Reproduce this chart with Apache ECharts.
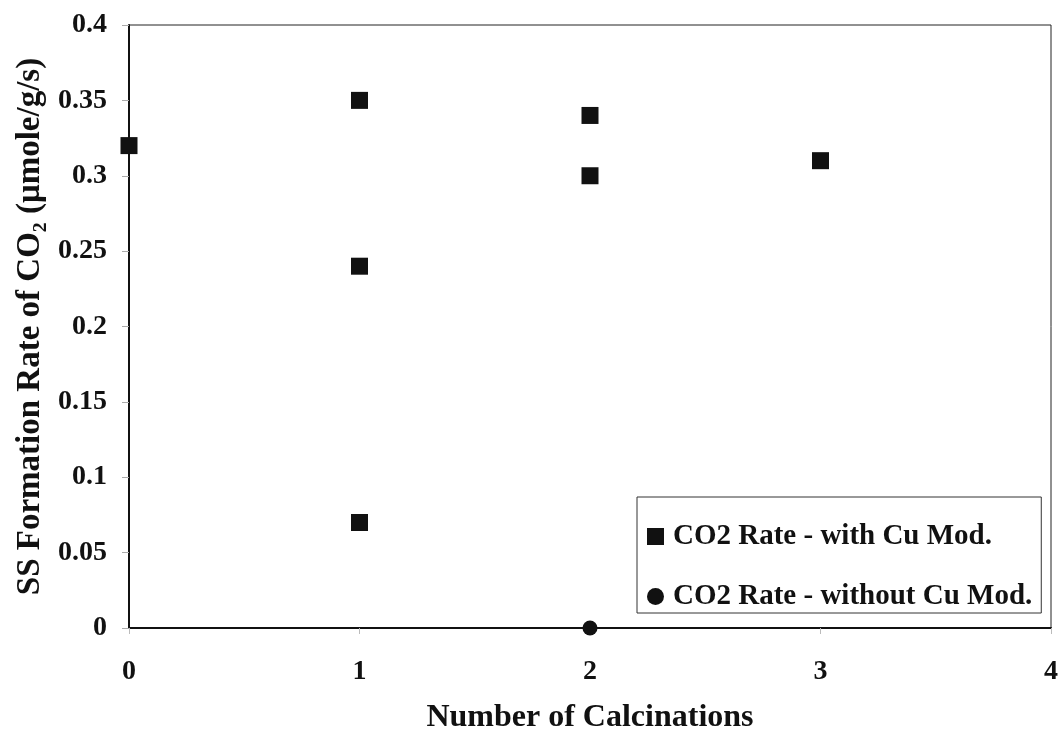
<!DOCTYPE html>
<html>
<head>
<meta charset="utf-8">
<script src="https://cdn.jsdelivr.net/npm/echarts@6/dist/echarts.min.js"></script>
<style>
html,body{margin:0;padding:0;background:#fff;}
#chart{width:1062px;height:733px;}
</style>
</head>
<body>
<div id="chart"></div>
<script>
var withCuX=[0,1,1,1,2,2,3];
var withCuY=[0.32,0.35,0.24,0.07,0.34,0.30,0.31];
var withoutCuX=[2];
var withoutCuY=[0];
var seriesNames=['CO2 Rate - with Cu Mod.','CO2 Rate - without Cu Mod.'];

function pairs(xs,ys){
	var out=[];
	for(var i=0;i<xs.length;i++){
		out.push([xs[i],ys[i]]);
	}
	return out;
}

var FONT='"Liberation Serif","Times New Roman",serif';
var chart=echarts.init(document.getElementById('chart'));
var option={
	animation:false,
	backgroundColor:'#ffffff',
	grid:{left:129,right:11,top:25,bottom:105,containLabel:false,outerBoundsMode:'none',
		show:true,borderColor:'#222',borderWidth:1,backgroundColor:'transparent'},
	legend:{
		orient:'vertical',
		left:637,
		top:497,
		data:[{name:seriesNames[0],icon:'rect'},{name:seriesNames[1],icon:'circle'}],
		itemWidth:17,
		itemHeight:17,
		itemGap:31,
		padding:[25,9,2,10],
		borderColor:'#333',
		borderWidth:1,
		backgroundColor:'#fff',
		textStyle:{fontFamily:FONT,fontWeight:'bold',fontSize:29,color:'#111',padding:[0,0,0,4]}
	},
	xAxis:{
		type:'value',
		min:0,max:4,interval:1,
		name:'Number of Calcinations',
		nameLocation:'middle',
		nameGap:74,
		nameTextStyle:{fontFamily:FONT,fontWeight:'bold',fontSize:32,color:'#111'},
		axisLine:{show:true,lineStyle:{color:'#111',width:2}},
		axisTick:{show:true,inside:false,length:6,lineStyle:{color:'#bbb'}},
		axisLabel:{fontFamily:FONT,fontWeight:'bold',fontSize:28,color:'#111',margin:30},
		splitLine:{show:false}
	},
	yAxis:{
		type:'value',
		min:0,max:0.4,interval:0.05,
		name:'SS Formation Rate of CO\u2082 (\u03bcmole/g/s)',
		nameLocation:'middle',
		nameRotate:90,
		nameGap:82,
		nameTextStyle:{fontFamily:FONT,fontWeight:'bold',fontSize:33,color:'#111'},
		axisLine:{show:true,lineStyle:{color:'#111',width:2}},
		axisTick:{show:true,inside:false,length:7,lineStyle:{color:'#aaa'}},
		axisLabel:{fontFamily:FONT,fontWeight:'bold',fontSize:28,color:'#111',margin:22,
			formatter:function(v){return String(+v.toFixed(2));}},
		splitLine:{show:false}
	},
	series:[
		{
			name:seriesNames[0],
			type:'scatter',
			symbol:'rect',
			symbolSize:17,
			clip:false,
			itemStyle:{color:'#111',opacity:1},
			data:pairs(withCuX,withCuY)
		},
		{
			name:seriesNames[1],
			type:'scatter',
			symbol:'circle',
			symbolSize:15,
			clip:false,
			itemStyle:{color:'#111',opacity:1},
			data:pairs(withoutCuX,withoutCuY)
		}
	]
};
chart.setOption(option);
</script>
</body>
</html>
